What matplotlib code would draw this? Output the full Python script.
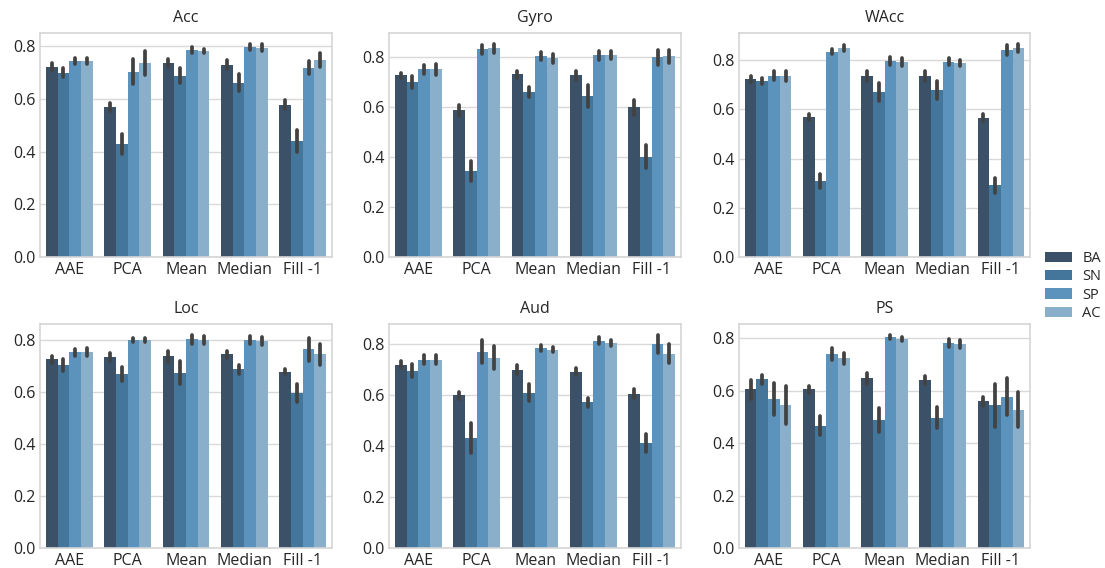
import numpy as np
import matplotlib
matplotlib.use("Agg")
import matplotlib.pyplot as plt
from matplotlib.patches import Patch
import seaborn as sns

# ---------------- data ----------------
sensors = ["Acc", "Gyro", "WAcc", "Loc", "Aud", "PS"]
methods = ["AAE", "PCA", "Mean", "Median", "Fill -1"]
groups = ["BA", "SN", "SP", "AC"]

# rows: BA, SN, SP, AC ; columns: methods
acc_mean = [[0.722, 0.568, 0.737, 0.730, 0.579],
            [0.700, 0.429, 0.688, 0.662, 0.440],
            [0.745, 0.704, 0.786, 0.798, 0.719],
            [0.745, 0.737, 0.782, 0.795, 0.749]]
acc_err = [[0.013, 0.015, 0.016, 0.017, 0.016],
           [0.016, 0.039, 0.028, 0.033, 0.041],
           [0.012, 0.049, 0.010, 0.012, 0.024],
           [0.012, 0.045, 0.009, 0.012, 0.026]]

gyro_mean = [[0.728, 0.588, 0.732, 0.728, 0.600],
             [0.700, 0.345, 0.660, 0.644, 0.401],
             [0.752, 0.832, 0.804, 0.808, 0.800],
             [0.752, 0.836, 0.796, 0.808, 0.804]]
gyro_err = [[0.009, 0.023, 0.015, 0.019, 0.029],
            [0.024, 0.039, 0.020, 0.044, 0.046],
            [0.019, 0.019, 0.016, 0.017, 0.031],
            [0.022, 0.019, 0.017, 0.016, 0.027]]

wacc_mean = [[0.724, 0.570, 0.736, 0.736, 0.566],
             [0.716, 0.308, 0.672, 0.680, 0.291],
             [0.736, 0.834, 0.797, 0.793, 0.842],
             [0.736, 0.850, 0.793, 0.789, 0.850]]
wacc_err = [[0.011, 0.012, 0.019, 0.019, 0.014],
            [0.011, 0.028, 0.037, 0.037, 0.032],
            [0.018, 0.011, 0.017, 0.014, 0.020],
            [0.020, 0.011, 0.016, 0.012, 0.017]]

loc_mean = [[0.726, 0.734, 0.738, 0.745, 0.679],
            [0.703, 0.668, 0.675, 0.687, 0.597],
            [0.753, 0.800, 0.804, 0.800, 0.765],
            [0.753, 0.800, 0.800, 0.796, 0.745]]
loc_err = [[0.014, 0.016, 0.021, 0.012, 0.010],
           [0.023, 0.027, 0.045, 0.019, 0.034],
           [0.013, 0.008, 0.017, 0.016, 0.044],
           [0.015, 0.009, 0.015, 0.016, 0.040]]

aud_mean = [[0.719, 0.599, 0.700, 0.692, 0.606],
            [0.696, 0.431, 0.610, 0.571, 0.411],
            [0.739, 0.770, 0.786, 0.813, 0.801],
            [0.739, 0.747, 0.778, 0.805, 0.762]]
aud_err = [[0.013, 0.014, 0.017, 0.014, 0.019],
           [0.026, 0.058, 0.034, 0.019, 0.035],
           [0.019, 0.045, 0.012, 0.014, 0.036],
           [0.019, 0.045, 0.010, 0.012, 0.037]]

ps_mean = [[0.605, 0.605, 0.647, 0.640, 0.559],
           [0.644, 0.467, 0.490, 0.497, 0.544],
           [0.567, 0.740, 0.805, 0.782, 0.578],
           [0.547, 0.724, 0.797, 0.778, 0.528]]
ps_err = [[0.037, 0.014, 0.022, 0.016, 0.018],
          [0.017, 0.037, 0.046, 0.040, 0.081],
          [0.061, 0.022, 0.009, 0.015, 0.072],
          [0.073, 0.021, 0.009, 0.014, 0.066]]

means = [acc_mean, gyro_mean, wacc_mean, loc_mean, aud_mean, ps_mean]
errs = [acc_err, gyro_err, wacc_err, loc_err, aud_err, ps_err]

palette = ["#3a5167", "#44759a", "#5b93bd", "#89afcb"]

# ---------------- style ----------------
sns.set_style("whitegrid")
plt.rcParams["font.family"] = ["Open Sans", "DejaVu Sans"]
text_color = "#262626"
plt.rcParams["text.color"] = text_color
plt.rcParams["xtick.color"] = text_color
plt.rcParams["ytick.color"] = text_color

fig = plt.figure(figsize=(11.05, 5.68), dpi=100)

W, H = 1105.0, 568.0
col_px = [(40, 332), (389, 681), (739, 1030)]
row_px = [(33, 257), (324, 548)]

n_g = len(groups)
width = 0.8 / n_g
x = np.arange(len(methods))

for i, sensor in enumerate(sensors):
    r, c = divmod(i, 3)
    l, rr = col_px[c]
    t, b = row_px[r]
    ax = fig.add_axes([l / W, 1 - b / H, (rr - l) / W, (b - t) / H])
    m = np.array(means[i])
    e = np.array(errs[i])
    for g in range(n_g):
        xs = x - 0.4 + width * (g + 0.5)
        ax.bar(xs, m[g], width=width, color=palette[g], linewidth=0, zorder=2)
        for k in range(len(methods)):
            ax.plot([xs[k], xs[k]], [m[g, k] - e[g, k], m[g, k] + e[g, k]],
                    color="#424242", lw=2.7, solid_capstyle="round", zorder=3)
    ax.set_xticks(x)
    ax.set_xticklabels(methods, fontsize=11.5)
    ax.set_xlim(-0.5, len(methods) - 0.5)
    ax.set_yticks([0.0, 0.2, 0.4, 0.6, 0.8])
    ax.tick_params(axis="y", labelsize=11.5)
    ax.tick_params(axis="both", length=0)
    ax.grid(axis="x", visible=False)
    ax.grid(axis="y", color="#d9d9d9", lw=1.0, zorder=0)
    for sp in ax.spines.values():
        sp.set_color("#d5d5d5")
        sp.set_linewidth(1.2)
    ax.set_axisbelow(True)
    ax.set_title(sensor, fontsize=11.5, pad=8)

handles = [Patch(facecolor=palette[g], edgecolor="none", label=groups[g]) for g in range(n_g)]
fig.legend(handles=handles, loc="center left", bbox_to_anchor=(1045 / W, 1 - 286 / H),
           frameon=False, fontsize=10.5, handlelength=1.85, handleheight=0.7,
           labelspacing=0.22, handletextpad=0.7, borderpad=0, borderaxespad=0)

fig.savefig("out.png", dpi=100)
